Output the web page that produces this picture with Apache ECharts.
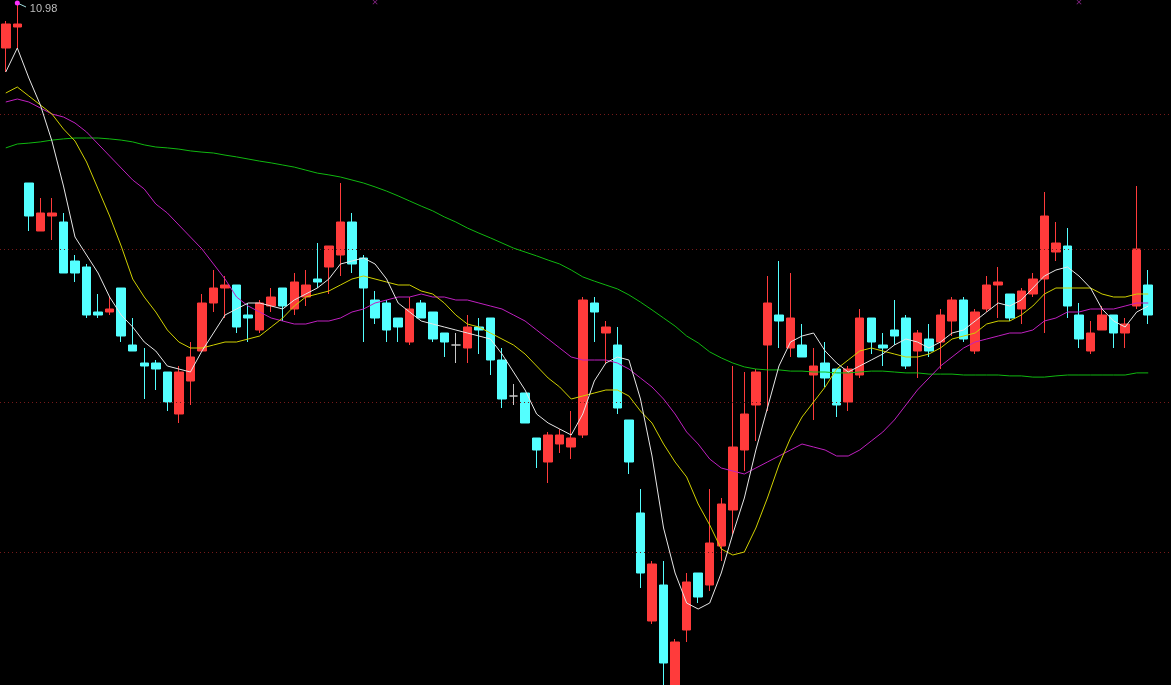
<!DOCTYPE html>
<html>
<head>
<meta charset="utf-8">
<style>
html,body{margin:0;padding:0;background:#000;}
#chart{width:1171px;height:685px;}
</style>
<script src="https://cdn.jsdelivr.net/npm/echarts@6/dist/echarts.min.js"></script>
</head>
<body>
<div id="chart"></div>
<script>
// ---- data ----
const opens = [10.83,10.90,10.38,10.22,10.27,10.25,10.12,10.10,9.95,9.95,
10.03,9.84,9.78,9.78,9.75,9.61,9.72,9.82,9.98,10.03,
10.04,9.94,9.89,9.97,10.03,9.96,10.00,10.06,10.10,10.14,
10.25,10.13,9.99,9.98,9.93,9.85,9.98,9.95,9.88,9.84,
9.83,9.90,9.93,9.79,9.67,9.68,9.53,9.45,9.51,9.50,
9.54,9.98,9.88,9.84,9.59,9.28,8.92,9.04,8.68,8.89,
9.08,9.04,9.17,9.29,9.49,9.64,9.84,9.94,9.83,9.84,
9.74,9.78,9.76,9.65,9.74,9.93,9.84,9.89,9.93,9.82,
9.86,9.85,9.92,9.99,9.82,9.96,10.04,10.01,9.96,10.01,
10.06,10.15,10.17,9.94,9.82,9.89,9.94,9.88,9.97,10.04];
const closes = [10.91,10.91,10.27,10.28,10.28,10.08,10.08,9.94,9.94,9.96,
9.87,9.82,9.77,9.76,9.65,9.75,9.80,9.98,10.03,10.04,
9.90,9.93,9.98,10.00,9.97,10.05,10.04,10.05,10.17,10.25,
10.11,10.03,9.93,9.89,9.90,9.96,9.93,9.86,9.85,9.84,
9.90,9.89,9.79,9.66,9.67,9.58,9.49,9.54,9.54,9.53,
9.99,9.95,9.90,9.63,9.45,9.08,9.11,8.78,8.85,9.05,
9.00,9.18,9.31,9.50,9.61,9.75,9.98,9.92,9.93,9.80,
9.77,9.73,9.64,9.76,9.93,9.85,9.83,9.87,9.77,9.88,
9.82,9.94,9.99,9.86,9.95,10.04,10.05,9.93,10.02,10.06,
10.27,10.18,9.97,9.86,9.88,9.94,9.88,9.91,10.16,9.94];
const lows = [10.75,10.83,10.22,10.22,10.19,10.08,10.05,9.93,9.93,9.94,
9.85,9.82,9.66,9.69,9.62,9.58,9.64,9.82,9.95,9.93,
9.88,9.85,9.88,9.95,9.92,9.94,9.97,10.03,10.01,10.07,
10.08,9.85,9.91,9.85,9.85,9.84,9.93,9.85,9.80,9.78,
9.78,9.81,9.74,9.63,9.64,9.58,9.43,9.38,9.48,9.46,
9.53,9.85,9.78,9.61,9.41,9.03,8.91,8.70,8.66,8.85,
8.98,9.02,9.12,9.21,9.42,9.52,9.62,9.83,9.80,9.80,
9.59,9.70,9.60,9.62,9.73,9.81,9.77,9.84,9.76,9.73,
9.80,9.76,9.87,9.85,9.81,9.95,9.93,9.92,9.91,10.00,
9.88,10.12,9.93,9.83,9.81,9.89,9.83,9.83,9.96,9.91];
const highs = [10.92,10.98,10.38,10.33,10.33,10.28,10.14,10.11,10.01,10.00,
10.03,9.93,9.83,9.79,9.75,9.77,9.85,10.01,10.09,10.07,
10.04,9.98,9.99,10.03,10.03,10.08,10.09,10.18,10.17,10.38,
10.28,10.14,10.02,9.99,9.93,10.00,9.99,9.95,9.88,9.88,
9.94,9.93,9.93,9.83,9.71,9.68,9.53,9.55,9.56,9.62,
10.00,10.00,9.92,9.90,9.59,9.36,9.12,9.12,8.86,9.08,
9.08,9.36,9.33,9.77,9.75,9.76,10.07,10.12,10.08,9.91,
9.83,9.85,9.76,9.77,9.96,9.93,9.88,9.99,9.94,9.89,
9.91,9.96,10.00,10.00,9.96,10.07,10.10,10.01,10.03,10.08,
10.35,10.25,10.23,9.98,9.92,9.97,9.94,9.93,10.37,10.09];
const ma5 = [10.75,10.83,10.73,10.64,10.52,10.37,10.20,10.14,10.08,10.00,
9.94,9.90,9.85,9.82,9.77,9.76,9.75,9.82,9.88,9.94,
9.96,9.98,9.98,9.97,9.96,9.99,10.01,10.03,10.06,10.11,
10.12,10.13,10.11,10.06,9.98,9.95,9.92,9.91,9.90,9.89,
9.88,9.87,9.86,9.81,9.75,9.69,9.61,9.58,9.56,9.54,
9.61,9.72,9.78,9.80,9.79,9.66,9.47,9.23,9.08,8.98,
8.96,8.98,9.08,9.21,9.33,9.49,9.63,9.77,9.85,9.87,
9.88,9.82,9.78,9.75,9.77,9.79,9.81,9.84,9.86,9.85,
9.83,9.85,9.88,9.89,9.92,9.95,9.98,9.97,9.99,10.03,
10.07,10.09,10.10,10.07,10.03,9.96,9.92,9.90,9.95,9.97];
const ma10 = [10.68,10.70,10.67,10.64,10.61,10.56,10.52,10.45,10.36,10.27,
10.17,10.06,10.00,9.95,9.89,9.85,9.83,9.83,9.84,9.85,
9.85,9.86,9.87,9.90,9.93,9.97,10.00,10.01,10.02,10.04,
10.06,10.07,10.06,10.05,10.04,10.04,10.02,10.01,9.98,9.94,
9.91,9.90,9.88,9.86,9.84,9.81,9.77,9.73,9.70,9.66,
9.67,9.68,9.69,9.69,9.67,9.62,9.58,9.51,9.45,9.40,
9.31,9.24,9.16,9.14,9.15,9.23,9.33,9.44,9.53,9.60,
9.65,9.70,9.76,9.79,9.82,9.83,9.82,9.81,9.80,9.80,
9.81,9.83,9.86,9.87,9.88,9.91,9.92,9.92,9.94,9.97,
10.01,10.03,10.03,10.03,10.03,10.01,10.00,10.00,10.01,10.01];
const ma20 = [10.65,10.66,10.65,10.63,10.61,10.60,10.58,10.55,10.51,10.47,
10.43,10.39,10.36,10.31,10.28,10.24,10.20,10.16,10.11,10.06,
10.00,9.97,9.95,9.93,9.92,9.91,9.91,9.92,9.92,9.93,
9.95,9.96,9.98,9.99,10.00,10.00,10.01,10.00,10.00,9.99,
9.99,9.98,9.97,9.96,9.94,9.92,9.89,9.86,9.83,9.80,
9.79,9.79,9.79,9.78,9.76,9.73,9.70,9.66,9.61,9.55,
9.51,9.46,9.43,9.42,9.41,9.43,9.45,9.47,9.49,9.51,
9.50,9.49,9.47,9.47,9.49,9.52,9.55,9.59,9.64,9.69,
9.73,9.77,9.80,9.83,9.85,9.86,9.87,9.88,9.88,9.89,
9.92,9.93,9.95,9.95,9.96,9.96,9.96,9.97,9.98,9.98];
const ma60 = [10.497,10.510,10.513,10.517,10.523,10.527,10.530,10.530,10.530,10.527,
10.523,10.517,10.507,10.500,10.497,10.493,10.487,10.483,10.480,10.473,
10.467,10.460,10.453,10.447,10.440,10.433,10.423,10.413,10.407,10.400,
10.390,10.380,10.367,10.353,10.337,10.320,10.303,10.287,10.267,10.250,
10.230,10.213,10.197,10.180,10.163,10.150,10.137,10.123,10.110,10.090,
10.067,10.053,10.040,10.027,10.007,9.983,9.957,9.930,9.903,9.870,
9.847,9.817,9.797,9.780,9.767,9.760,9.757,9.757,9.753,9.753,
9.750,9.750,9.747,9.747,9.750,9.753,9.753,9.750,9.747,9.747,
9.743,9.743,9.743,9.740,9.740,9.740,9.740,9.737,9.737,9.733,
9.733,9.737,9.740,9.740,9.740,9.740,9.740,9.740,9.747,9.747];
const gridLevels = [10.61, 10.16, 9.65, 9.15];
const topMarkers = [[32, 10.983], [93, 10.983]];
const categories = opens.map((_, i) => String(i + 1));

// ---- chart ----
const candleData = opens.map((o, i) => [o, closes[i], lows[i], highs[i]]);
const chart = echarts.init(document.getElementById('chart'), null, {renderer: 'canvas'});

const maLine = (c, data) => ({type: 'line', data: data, showSymbol: false, symbol: 'none', smooth: false,
  lineStyle: {color: c, width: 1}, z: 5, silent: true});

const hiddenAxis = {axisLine: {show: false}, axisTick: {show: false}, axisLabel: {show: false}, splitLine: {show: false}};

chart.setOption({
  backgroundColor: '#000000',
  animation: false,
  grid: [
    {left: 0, right: 17, top: 0, bottom: 0, containLabel: false},
    {left: 0, right: 0, top: 0, bottom: 0, containLabel: false}
  ],
  xAxis: [
    Object.assign({type: 'category', data: categories, boundaryGap: true, gridIndex: 0}, hiddenAxis),
    Object.assign({type: 'category', data: ['g'], boundaryGap: true, gridIndex: 1}, hiddenAxis)
  ],
  yAxis: [
    Object.assign({type: 'value', min: 8.7067, max: 10.99, gridIndex: 0}, hiddenAxis),
    Object.assign({type: 'value', min: 8.7067, max: 10.99, gridIndex: 1}, hiddenAxis)
  ],
  series: [
    {
      type: 'line', xAxisIndex: 1, yAxisIndex: 1, data: [null], showSymbol: false, silent: true, z: 1,
      markLine: {
        silent: true, symbol: ['none', 'none'], label: {show: false},
        lineStyle: {color: '#761a1a', type: [1, 3], width: 1},
        data: gridLevels.map(v => ({yAxis: v}))
      }
    },
    {
      type: 'candlestick', data: candleData, barWidth: 9, z: 3,
      itemStyle: {color: '#ff3b3b', color0: '#54ffff', borderColor: '#ff3b3b', borderColor0: '#54ffff',
        borderColorDoji: '#c8c8c8', borderWidth: 1},
      markLine: {
        silent: true, symbol: ['none', 'none'], label: {show: false},
        lineStyle: {color: '#9fdcdc', type: 'solid', width: 1},
        data: [[{coord: [1, 10.98]}, {x: 26, y: 7}]]
      },
      markPoint: {
        symbol: 'circle', symbolSize: 5, silent: true,
        itemStyle: {color: '#ff30ff'},
        label: {show: true, position: 'right', offset: [5, 6], color: '#bdbdbd', fontSize: 11,
          fontFamily: 'Liberation Sans, Arial, sans-serif', formatter: p => Number(p.value).toFixed(2)},
        data: [{type: 'max', valueDim: 'highest'}]
      }
    },
    maLine('#10b810', ma60),
    maLine('#c020c0', ma20),
    maLine('#d0d000', ma10),
    maLine('#e6e6e6', ma5),
    {
      type: 'scatter', data: topMarkers, symbolSize: 5, silent: true, z: 6,
      symbol: 'path://M0,1L1,0L5,4L9,0L10,1L6,5L10,9L9,10L5,6L1,10L0,9L4,5Z',
      itemStyle: {color: '#b030b0'}
    }
  ]
});
</script>
</body>
</html>
